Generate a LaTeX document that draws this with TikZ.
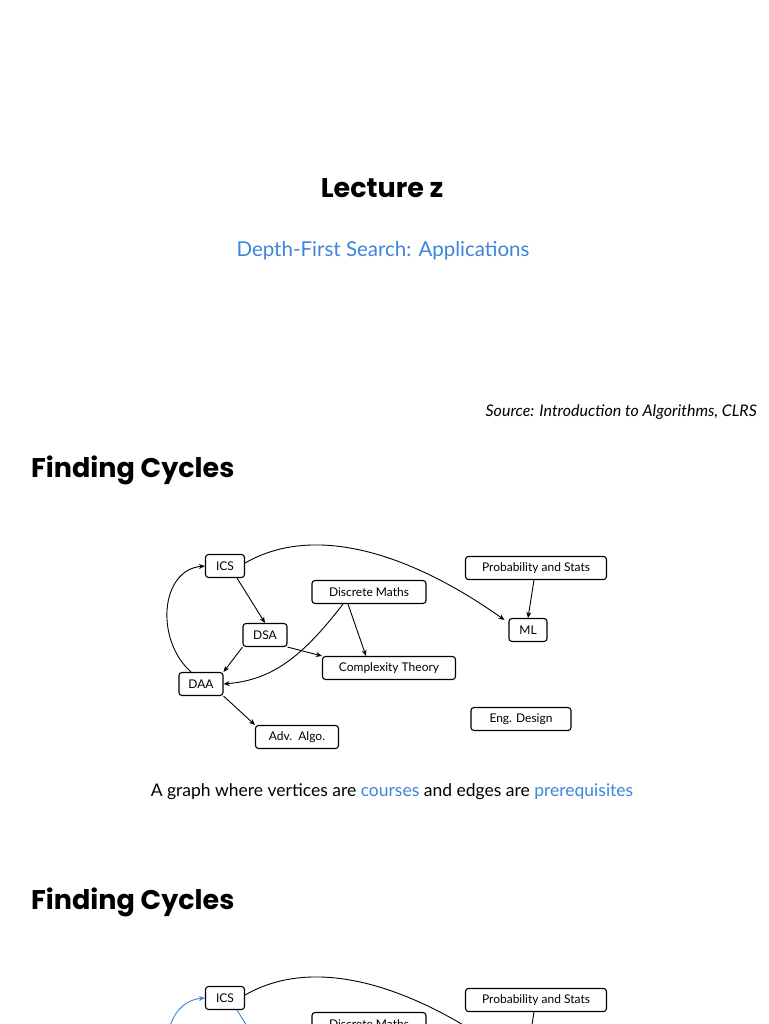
\documentclass[tikz,border=0pt]{standalone}
\usepackage{fontspec}
\setmainfont{Lato}
\newfontfamily\headfont{Poppins}
\usetikzlibrary{arrows.meta}
\definecolor{blu}{HTML}{3C85DE}
\tikzset{
 crs/.style={draw,rounded corners=3pt,line width=1.1pt,font=\fontsize{12}{14}\selectfont,minimum height=23pt,inner xsep=6pt},
 edg/.style={-{Stealth[length=6pt,width=5pt]},line width=0.9pt},
}
\newcommand{\coursegraph}[3]{%
\begin{scope}[shift={(0,#1)}]
\node[crs,minimum width=39pt] (ics) at (225,566) {ICS};
\node[crs,minimum width=114pt] (dm) at (369,592) {Discrete Maths};
\node[crs,minimum width=141pt] (ps) at (536,568) {Probability and Stats};
\node[crs,minimum width=44pt] (dsa) at (265,635) {DSA};
\node[crs,minimum width=38pt] (ml) at (528,630) {ML};
\node[crs,minimum width=133pt] (ct) at (389,668) {Complexity Theory};
\node[crs,minimum width=44pt] (daa) at (201,684) {DAA};
\node[crs,minimum width=100pt] (eng) at (521,719) {Eng. Design};
\node[crs,minimum width=83pt] (adv) at (297,737) {Adv.\ \ Algo.};
\coordinate (c1) at (320,520); \coordinate (c2) at (420,560);
\coordinate (c3) at (300,660); \coordinate (c4) at (270,680);
\coordinate (c5) at (155,640); \coordinate (c6) at (160,570);
\draw[edg] ([yshift=3pt]ics.east) .. controls (c1) and (c2) .. ([xshift=-4pt,yshift=-2pt]ml.north west);
\draw[edg,#2] ([xshift=12pt]ics.south) -- (dsa.north);
\draw[edg] (dsa.south west) -- (daa.north east);
\draw[edg] (dsa.south east) -- (ct.north west);
\draw[edg] ([xshift=-26pt]dm.south) .. controls (c3) and (c4) .. (daa.east);
\draw[edg] ([xshift=-21pt]dm.south) -- ([xshift=-23pt]ct.north);
\draw[edg] ([xshift=-2pt]ps.south) -- (ml.north);
\draw[edg,#3] ([xshift=-10pt]daa.north) .. controls (c5) and (c6) .. (ics.west);
\draw[edg] (daa.south east) -- (adv.north west);
\end{scope}}
\begin{document}
\begin{tikzpicture}[x=1pt,y=-1pt]
\fill[white] (0,0) rectangle (768,1024);
\clip (0,0) rectangle (768,1024);
\node[font=\headfont\bfseries\fontsize{27}{30}\selectfont] at (382,188) {Lecture z};
\node[font=\fontsize{20.5}{23}\selectfont,text=blu] at (383,251) {Depth-First Search: Applications};
\node[font=\itshape\fontsize{16}{19}\selectfont,anchor=east,inner xsep=0pt] at (757,412) {Source: Introduction to Algorithms, CLRS};
\node[font=\headfont\bfseries\fontsize{27}{30}\selectfont,anchor=west,inner xsep=0pt] at (31,470) {Finding Cycles};
\node[font=\fontsize{17.5}{20}\selectfont] at (392,792) {A graph where vertices are \textcolor{blu}{courses} and edges are \textcolor{blu}{prerequisites}};
\node[font=\headfont\bfseries\fontsize{27}{30}\selectfont,anchor=west,inner xsep=0pt] at (31,902) {Finding Cycles};
\coursegraph{0}{black}{black}
\coursegraph{432}{blu}{blu}
\end{tikzpicture}
\end{document}
